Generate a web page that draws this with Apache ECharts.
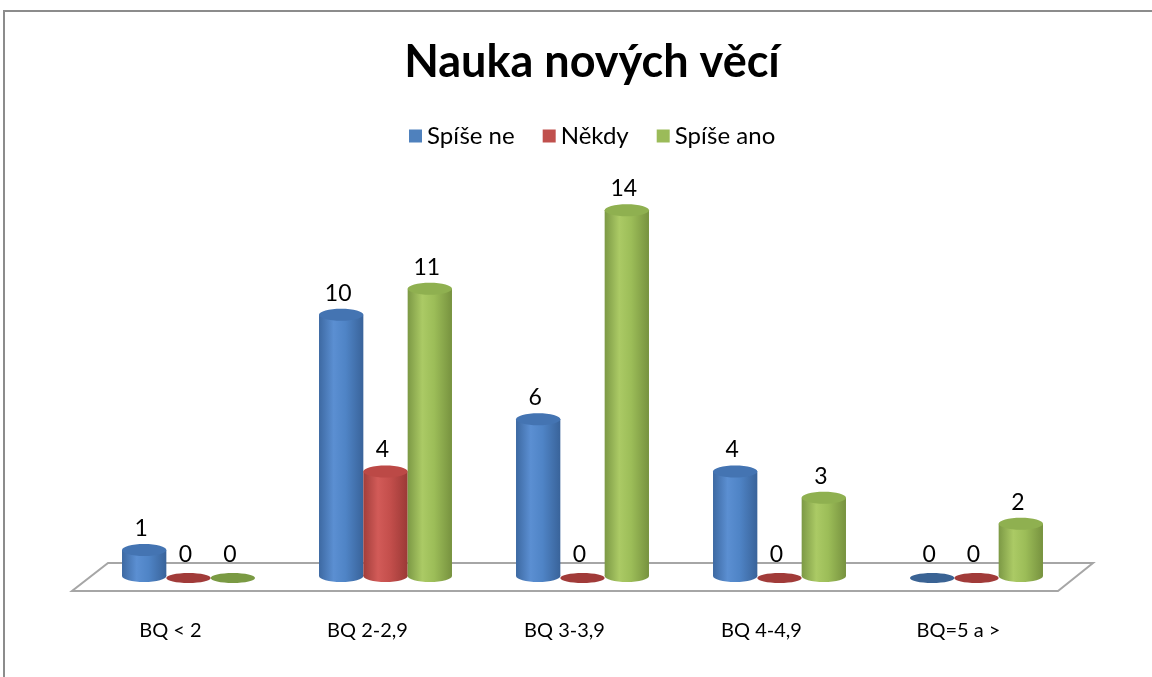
<!DOCTYPE html>
<html>
<head>
<meta charset="utf-8">
<script src="https://cdn.jsdelivr.net/npm/echarts@6/dist/echarts.min.js"></script>
<style>
  html, body { margin: 0; padding: 0; background: #fff; }
  #chart { width: 1152px; height: 677px; }
</style>
</head>
<body>
<div id="chart"></div>
<script>
const categories = ['BQ < 2', 'BQ 2-2,9', 'BQ 3-3,9', 'BQ 4-4,9', 'BQ=5 a >']
const spiseNe = [1, 10, 6, 4, 0]
const nekdy = [0, 4, 0, 0, 0]
const spiseAno = [0, 11, 14, 3, 2]

const FONT = 'Lato, "Open Sans", sans-serif'

// shading for each cylinder: body gradient, top cap, flat (zero) disc
const looks = [
  { base: '#4F81BD', stops: ['#3d69a2', '#5b8fd2', '#4f84c6', '#39639a'], top: '#4474b2', flat: '#3a6394' },
  { base: '#C0504D', stops: ['#a23e3b', '#d25b58', '#c44f4c', '#9b3936'], top: '#bc4946', flat: '#a13b39' },
  { base: '#9BBB59', stops: ['#7c9945', '#abca65', '#9cbd58', '#77923f'], top: '#8fb050', flat: '#7a9a43' }
]

function cylinder (idx) {
  const look = looks[idx]
  return function (params, api) {
    const cat = api.value(0)
    const v = api.value(1)
    const base = api.coord([cat, 0])
    const top = api.coord([cat, v])
    const band = api.size([1, 0])[0]
    const w = band * 0.225
    const cx = base[0] + (idx - 1) * w
    const rx = w / 2
    const ry = 6
    const grad = {
      type: 'linear', x: 0, y: 0, x2: 1, y2: 0,
      colorStops: [
        { offset: 0, color: look.stops[0] },
        { offset: 0.33, color: look.stops[1] },
        { offset: 0.6, color: look.stops[2] },
        { offset: 1, color: look.stops[3] }
      ]
    }
    const children = []
    if (v > 0) {
      children.push({
        type: 'ellipse',
        shape: { cx: cx, cy: base[1], rx: rx, ry: ry },
        style: { fill: grad }
      })
      children.push({
        type: 'rect',
        shape: { x: cx - rx, y: top[1], width: w, height: base[1] - top[1] },
        style: { fill: grad }
      })
      children.push({
        type: 'ellipse',
        shape: { cx: cx, cy: top[1], rx: rx, ry: ry },
        style: { fill: look.top }
      })
    } else {
      children.push({
        type: 'ellipse',
        shape: { cx: cx, cy: top[1] + 2, rx: rx, ry: ry - 1 },
        style: { fill: look.flat }
      })
    }
    children.push({
      type: 'text',
      style: {
        x: cx - 3, y: top[1] - ry - 4,
        text: String(v),
        align: 'center', verticalAlign: 'bottom',
        fill: '#000', font: '23px ' + FONT
      }
    })
    return { type: 'group', children: children }
  }
}

const chart = echarts.init(document.getElementById('chart'))

chart.setOption({
  animation: false,
  title: {
    text: 'Nauka nových věcí',
    left: 587,
    textAlign: 'center',
    top: 35,
    textStyle: { fontFamily: FONT, fontSize: 45, fontWeight: 'bold', color: '#000' }
  },
  legend: {
    top: 119,
    left: 404,
    itemWidth: 13,
    itemHeight: 13,
    itemGap: 28,
    icon: 'rect',
    textStyle: { fontFamily: FONT, fontSize: 24, color: '#000' }
  },
  grid: { left: 90, right: 77, top: 158, bottom: 101 },
  xAxis: {
    type: 'category',
    data: categories,
    axisLine: { show: false },
    axisTick: { show: false },
    axisLabel: {
      margin: 45,
      padding: [0, 36, 0, 0],
      fontFamily: FONT,
      fontSize: 20,
      color: '#000'
    }
  },
  yAxis: {
    type: 'value',
    min: 0,
    max: 16,
    show: false
  },
  graphic: [
    {
      type: 'rect',
      z: 0,
      shape: { x: 4, y: 11, width: 1300, height: 800 },
      style: { fill: 'none', stroke: '#8c8c8c', lineWidth: 2 }
    },
    {
      type: 'polygon',
      z: 0,
      shape: { points: [[108, 563], [1093, 563], [1058, 591], [72, 591]] },
      style: { fill: '#fff', stroke: '#a6a6a6', lineWidth: 2 }
    }
  ],
  series: [
    { name: 'Spíše ne', type: 'custom', z: 5, itemStyle: { color: looks[0].base }, renderItem: cylinder(0), encode: { x: 0, y: 1 }, data: spiseNe.map((v, i) => [i, v]) },
    { name: 'Někdy', type: 'custom', z: 5, itemStyle: { color: looks[1].base }, renderItem: cylinder(1), encode: { x: 0, y: 1 }, data: nekdy.map((v, i) => [i, v]) },
    { name: 'Spíše ano', type: 'custom', z: 5, itemStyle: { color: looks[2].base }, renderItem: cylinder(2), encode: { x: 0, y: 1 }, data: spiseAno.map((v, i) => [i, v]) }
  ]
})
</script>
</body>
</html>
